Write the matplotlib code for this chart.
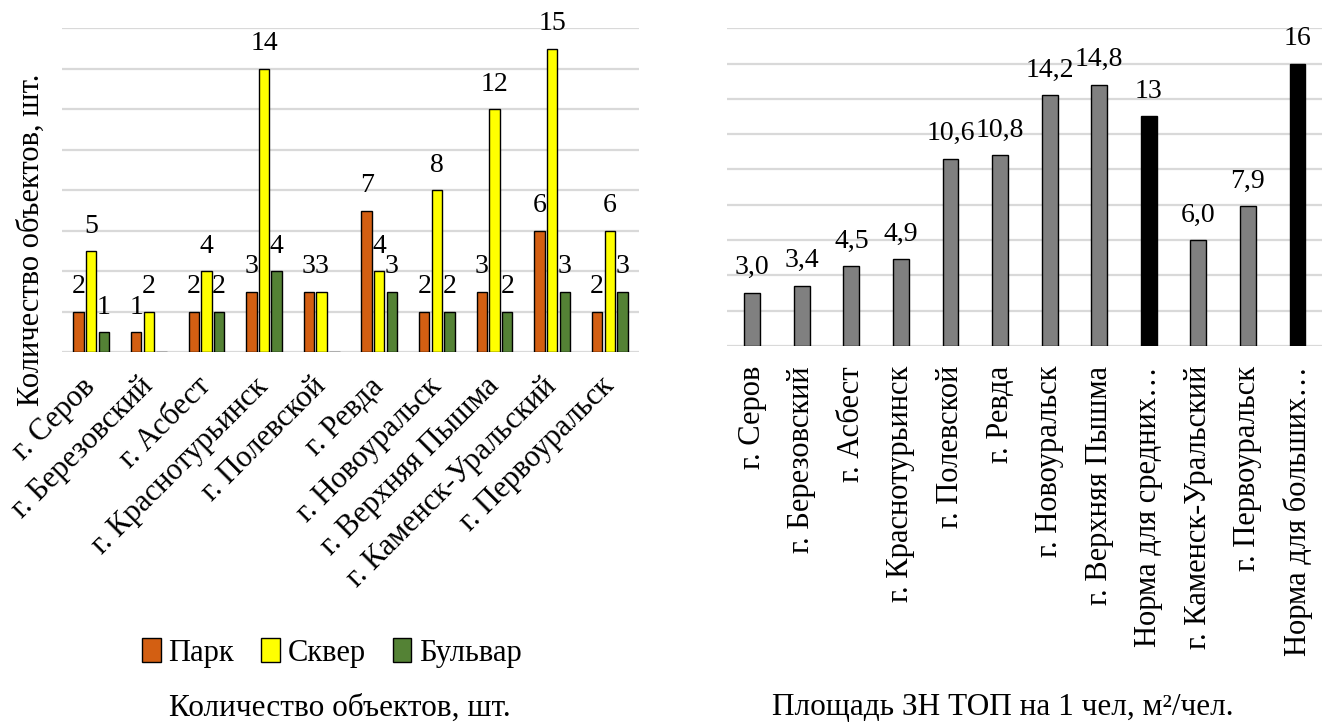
import numpy as np
import matplotlib
matplotlib.use("Agg")
import matplotlib.pyplot as plt
from matplotlib import font_manager as fm
from matplotlib.font_manager import FontProperties
from matplotlib.patches import Patch

# left chart data
cities_left=["г. Серов","г. Березовский","г. Асбест","г. Краснотурьинск","г. Полевской",
             "г. Ревда","г. Новоуральск","г. Верхняя Пышма","г. Каменск-Уральский","г. Первоуральск"]
park=[2,1,2,3,3,7,2,3,6,2]
skver=[5,2,4,14,3,4,8,12,15,6]
bulvar=[1,0,2,4,0,3,2,2,3,3]
series_names=["Парк","Сквер","Бульвар"]
series_colors=["#D35F12","#FFFF00","#548235"]

# right chart data
cities_right=["г. Серов","г. Березовский","г. Асбест","г. Краснотурьинск","г. Полевской",
              "г. Ревда","г. Новоуральск","г. Верхняя Пышма","Норма для средних…",
              "г. Каменск-Уральский","г. Первоуральск","Норма для больших…"]
area=[3.0,3.4,4.5,4.9,10.6,10.8,14.2,14.8,13,6.0,7.9,16]
is_norm=[False]*8+[True,False,False,True]

FS=22    # axis texts
FT=22.5  # captions under the charts
FV=20    # value labels
GRID="#D9D9D9"

# pick the regular Liberation Serif file directly
serif_file=None
for f in fm.fontManager.ttflist:
    if f.name=="Liberation Serif" and f.style=="normal" and f.weight in (400,"normal","regular"):
        serif_file=f.fname
        break

def font(size):
    if serif_file:
        return FontProperties(fname=serif_file,size=size)
    return FontProperties(family="serif",size=size)

fig=plt.figure(figsize=(13.25,7.25),dpi=100)

def style_axes(ax,ymax,step):
    ax.set_ylim(0,ymax)
    ax.set_yticks(np.arange(0,ymax+0.01,step))
    ax.yaxis.grid(True,color=GRID,linewidth=1.6)
    ax.set_axisbelow(True)
    for s in ax.spines.values():
        s.set_visible(False)
    ax.tick_params(axis='y',left=False,labelleft=False)
    ax.tick_params(axis='x',bottom=False)

# ---- left: number of objects
ax1=fig.add_axes([0.047,0.514,0.435,0.447])
x=np.arange(len(cities_left))
w=0.18
step=0.22
for i,(vals,name,col) in enumerate(zip([park,skver,bulvar],series_names,series_colors)):
    bars=ax1.bar(x+(i-1)*step,vals,w,color=col,edgecolor="black",linewidth=1,label=name)
    labels=[str(v) if v>0 else "" for v in vals]
    ax1.bar_label(bars,labels=labels,padding=9,fontproperties=font(FV))
ax1.set_xlim(-0.5,len(cities_left)-0.5)
style_axes(ax1,16,2)
ax1.set_xticks(x)
ax1.set_xticklabels(cities_left,rotation=45,ha="right",va="center",rotation_mode="anchor",
                    fontproperties=font(FS))
ax1.tick_params(axis='x',pad=18)

fig.text(31/1325,1-240/725,"Количество объектов, шт.",rotation=90,ha="center",va="center",
         fontproperties=font(FS))

handles=[Patch(facecolor=c,edgecolor="black",label=n) for c,n in zip(series_colors,series_names)]
fig.legend(handles=handles,loc="center",bbox_to_anchor=(332/1325,1-653/725),ncol=3,frameon=False,
           prop=font(FS),handlelength=0.6,handleheight=0.8,handletextpad=0.25,columnspacing=0.9)
fig.text(340/1325,1-708/725,"Количество объектов, шт.",ha="center",va="center",fontproperties=font(FT))

# ---- right: green area per person
ax2=fig.add_axes([0.549,0.523,0.449,0.438])
x2=np.arange(len(cities_right))
colors=["black" if n else "#808080" for n in is_norm]
bars=ax2.bar(x2,area,0.32,color=colors,edgecolor="black",linewidth=1)
labels=[f"{v:.0f}" if n else f"{v:.1f}".replace(".",",") for v,n in zip(area,is_norm)]
ax2.bar_label(bars,labels=labels,padding=9,fontproperties=font(FV))
ax2.set_xlim(-0.5,len(cities_right)-0.5)
style_axes(ax2,18,2)
ax2.set_xticks(x2)
ax2.set_xticklabels(cities_right,rotation=90,fontproperties=font(FS))
ax2.tick_params(axis='x',pad=11)

fig.text(1003/1325,1-708/725,"Площадь ЗН ТОП на 1 чел, м²/чел.",ha="center",va="center",
         fontproperties=font(FT))

fig.savefig("out.png",dpi=100)
